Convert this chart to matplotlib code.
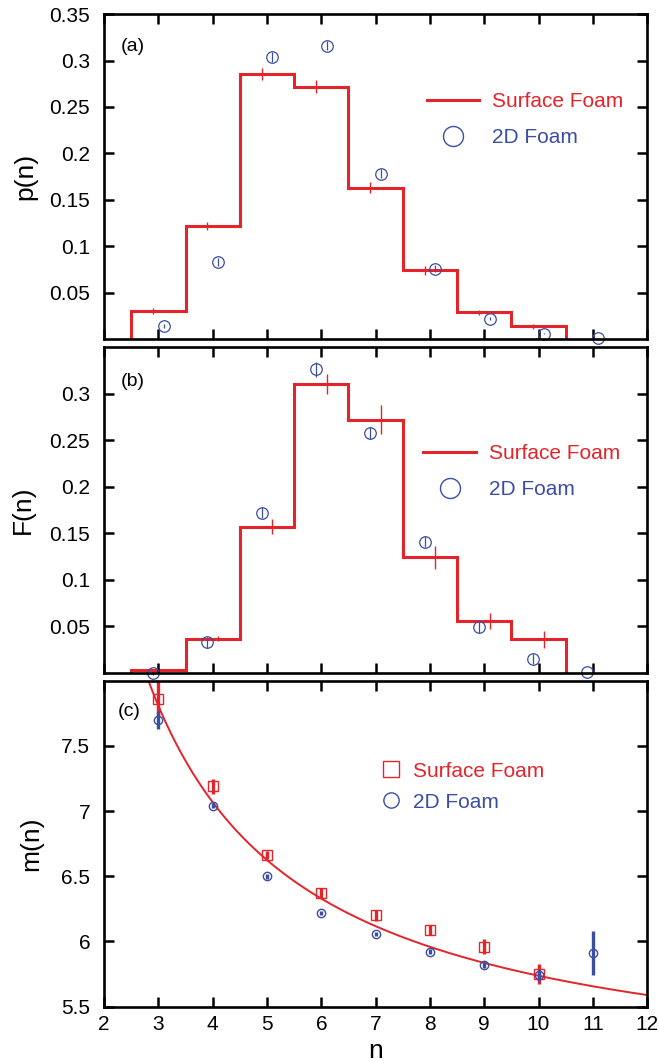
import matplotlib
matplotlib.use('Agg')
import matplotlib.pyplot as plt
from matplotlib.lines import Line2D
from matplotlib.ticker import FuncFormatter
import numpy as np

plt.rcParams['font.family'] = ['Liberation Sans', 'DejaVu Sans']

RED = '#e3242b'
BLUE = '#3b4ea3'

# ---------------- data ----------------
n_surface = [3, 4, 5, 6, 7, 8, 9, 10]
n_2d = [3, 4, 5, 6, 7, 8, 9, 10, 11]
bin_edges = [2.5, 3.5, 4.5, 5.5, 6.5, 7.5, 8.5, 9.5, 10.5]

# (a) p(n)
p_surface = [0.030, 0.122, 0.286, 0.272, 0.163, 0.074, 0.029, 0.014]
p_surface_err = [0.003, 0.0045, 0.0065, 0.0068, 0.006, 0.0045, 0.0027, 0.0027]
p_2d = [0.014, 0.083, 0.304, 0.316, 0.178, 0.076, 0.022, 0.006, 0.001]
p_2d_err = [0.0018, 0.004, 0.0054, 0.005, 0.0047, 0.004, 0.0015, 0.001, 0.0]

# (b) F(n)
F_surface = [0.003, 0.037, 0.157, 0.310, 0.272, 0.124, 0.056, 0.036]
F_surface_err = [0.001, 0.003, 0.008, 0.011, 0.0155, 0.012, 0.0088, 0.009]
F_2d = [0.000, 0.033, 0.172, 0.326, 0.258, 0.141, 0.049, 0.015, 0.001]
F_2d_err = [0.002, 0.006, 0.006, 0.008, 0.0065, 0.006, 0.0057, 0.005, 0.0]

# (c) m(n)
m_surface = [7.86, 7.19, 6.66, 6.37, 6.20, 6.09, 5.96, 5.75]
m_surface_err = [0.14, 0.056, 0.03, 0.04, 0.04, 0.04, 0.06, 0.08]
m_2d = [7.70, 7.04, 6.50, 6.22, 6.06, 5.92, 5.82, 5.74, 5.91]
m_2d_err = [0.07, 0.02, 0.02, 0.015, 0.015, 0.02, 0.025, 0.04, 0.17]

# Aboav-Weaire fit m(n) = a + b / n
aw_a = 4.85
aw_b = 8.87

x_ticks = [2, 3, 4, 5, 6, 7, 8, 9, 10, 11, 12]
p_ticks = [0.05, 0.1, 0.15, 0.2, 0.25, 0.3, 0.35]
F_ticks = [0.05, 0.1, 0.15, 0.2, 0.25, 0.3]
m_ticks = [5.5, 6, 6.5, 7, 7.5]

# ---------------- figure ----------------
fig = plt.figure(figsize=(6.59, 10.63), dpi=100)
L, W = 0.158, 0.824
ax_a = fig.add_axes([L, 0.681, W, 0.3057])
ax_b = fig.add_axes([L, 0.3669, W, 0.3067])
ax_c = fig.add_axes([L, 0.0530, W, 0.3067])

fmt = FuncFormatter(lambda v, p: '%g' % v)

for ax in (ax_a, ax_b, ax_c):
    ax.set_xlim(2, 12)
    ax.set_xticks(x_ticks)
    ax.tick_params(direction='in', length=7.2, width=1.8, top=True, right=True,
                   labelsize=15, pad=10)
    ax.tick_params(axis='x', pad=6)
    for s in ax.spines.values():
        s.set_linewidth(1.9)
    ax.yaxis.set_major_formatter(fmt)

ns = np.array(n_surface, dtype=float)
n2 = np.array(n_2d, dtype=float)
off = 0.1

# (a)
ax_a.stairs(p_surface, bin_edges, baseline=0, fill=False, color=RED, lw=2.2)
ax_a.errorbar(ns - off, p_surface, yerr=p_surface_err, fmt='none', ecolor=RED,
              elinewidth=1.0, capsize=0)
ax_a.errorbar(n2 + off, p_2d, yerr=p_2d_err, fmt='o', mfc='none', mec=BLUE, ms=8.3,
              mew=0.9, ecolor=BLUE, elinewidth=0.9, capsize=0, clip_on=False)
ax_a.set_ylim(0, 0.35)
ax_a.set_yticks(p_ticks)
ax_a.tick_params(labelbottom=False)
ax_a.set_ylabel('p(n)', fontsize=19)
ax_a.yaxis.set_label_coords(-0.123, 0.5)
ax_a.text(0.03, 0.90, '(a)', transform=ax_a.transAxes, fontsize=14, va='center')
h_a = [Line2D([], [], color=RED, lw=2.2),
       Line2D([], [], ls='none', marker='o', mfc='none', mec=BLUE, ms=14.4, mew=1.0)]
leg = ax_a.legend(h_a, ['Surface Foam', '2D Foam'], loc='center left',
                  bbox_to_anchor=(0.594, 0.676), frameon=False, fontsize=15,
                  handlelength=2.53, handletextpad=0.6, labelspacing=0.82,
                  borderpad=0, borderaxespad=0)
leg.get_texts()[0].set_color(RED)
leg.get_texts()[1].set_color(BLUE)

# (b)
ax_b.stairs(F_surface, bin_edges, baseline=0, fill=False, color=RED, lw=2.2)
ax_b.errorbar(ns + off, F_surface, yerr=F_surface_err, fmt='none', ecolor=RED,
              elinewidth=1.0, capsize=0)
ax_b.errorbar(n2 - off, F_2d, yerr=F_2d_err, fmt='o', mfc='none', mec=BLUE, ms=8.3,
              mew=0.9, ecolor=BLUE, elinewidth=0.9, capsize=0, clip_on=False)
ax_b.set_ylim(0, 0.35)
ax_b.set_yticks(F_ticks)
ax_b.tick_params(labelbottom=False)
ax_b.set_ylabel('F(n)', fontsize=19)
ax_b.yaxis.set_label_coords(-0.127, 0.5)
ax_b.text(0.03, 0.894, '(b)', transform=ax_b.transAxes, fontsize=14, va='center')
h_b = [Line2D([], [], color=RED, lw=2.2),
       Line2D([], [], ls='none', marker='o', mfc='none', mec=BLUE, ms=14.4, mew=1.0)]
leg = ax_b.legend(h_b, ['Surface Foam', '2D Foam'], loc='center left',
                  bbox_to_anchor=(0.588, 0.617), frameon=False, fontsize=15,
                  handlelength=2.53, handletextpad=0.6, labelspacing=0.82,
                  borderpad=0, borderaxespad=0)
leg.get_texts()[0].set_color(RED)
leg.get_texts()[1].set_color(BLUE)

# (c)
nfit = np.linspace(2, 12, 300)
ax_c.plot(nfit, aw_a + aw_b / nfit, color=RED, lw=1.4)
ax_c.errorbar(ns, m_surface, yerr=m_surface_err, fmt='s', mfc='none', mec=RED, ms=6.8,
              mew=1.0, ecolor=RED, elinewidth=2.4, capsize=0)
ax_c.errorbar(n2, m_2d, yerr=m_2d_err, fmt='o', mfc='none', mec=BLUE, ms=6.0,
              mew=1.0, ecolor=BLUE, elinewidth=2.4, capsize=0)
ax_c.set_ylim(5.5, 8.0)
ax_c.set_yticks(m_ticks)
ax_c.set_ylabel('m(n)', fontsize=19)
ax_c.yaxis.set_label_coords(-0.112, 0.5)
ax_c.set_xlabel('n', fontsize=19, labelpad=3.5)
ax_c.text(0.026, 0.905, '(c)', transform=ax_c.transAxes, fontsize=14, va='center')
h_c = [Line2D([], [], ls='none', marker='s', mfc='none', mec=RED, ms=12, mew=1.0),
       Line2D([], [], ls='none', marker='o', mfc='none', mec=BLUE, ms=11, mew=1.0)]
leg = ax_c.legend(h_c, ['Surface Foam', '2D Foam'], loc='center left',
                  bbox_to_anchor=(0.509, 0.675), frameon=False, fontsize=15,
                  handlelength=1.0, handletextpad=0.57, labelspacing=0.58,
                  borderpad=0, borderaxespad=0)
leg.get_texts()[0].set_color(RED)
leg.get_texts()[1].set_color(BLUE)

fig.savefig('out.png', dpi=100)
